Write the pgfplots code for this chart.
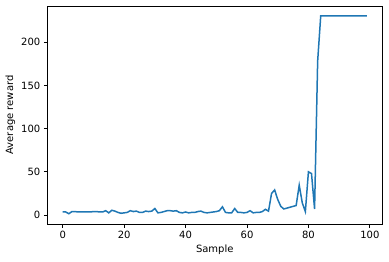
\documentclass[border=0pt]{standalone}
\usepackage{fontspec}
\setmainfont{DejaVu Sans}
\usepackage{pgfplots}
\pgfplotsset{compat=1.18}
\definecolor{mplblue}{HTML}{1F77B4}

\begin{document}
\fontsize{10bp}{12bp}\selectfont
\begin{tikzpicture}
  \begin{axis}[
      at={(0,0)}, anchor=south west,
      scale only axis, width=334.5bp, height=218bp,
      xmin=-4.95, xmax=103.95, ymin=-10.4, ymax=241.9,
      xtick={0,20,40,60,80,100}, ytick={0,50,100,150,200},
      axis line style={line width=0.8bp},
      tick style={line width=0.8bp, black},
      major tick length=3.5bp,
      tick align=outside, xtick pos=bottom, ytick pos=left,
      /pgf/number format/assume math mode=true,
      tick label style={font=\fontsize{10bp}{12bp}\selectfont},
      xticklabel style={inner sep=0pt, yshift=-3.5bp},
      yticklabel style={inner sep=0pt, xshift=-3.5bp},
      xlabel={Sample}, ylabel={Average reward},
      label style={font=\fontsize{10bp}{12bp}\selectfont, inner sep=0pt},
      xlabel style={at={(axis description cs:0.5,-0.0963)}, anchor=north},
      ylabel style={at={(axis description cs:-0.1112,0.5)}, rotate=0, anchor=center},
    ]
    \addplot[mplblue, line width=1.5bp, mark=none] coordinates {
      (0,3.5) (1,3.5) (2,1.5) (3,4) (4,4) (5,3.5) (6,3.5) (7,3.5) (8,3.5) (9,3.5)
      (10,4) (11,4) (12,3.5) (13,3.5) (14,5) (15,2.5) (16,5.5) (17,4.5) (18,3) (19,2)
      (20,2.5) (21,3) (22,5) (23,4) (24,4.5) (25,3) (26,3) (27,4.5) (28,4) (29,4.5)
      (30,7.5) (31,2.5) (32,3) (33,4) (34,5) (35,5) (36,4.5) (37,5) (38,3) (39,2.5)
      (40,3.5) (41,2.5) (42,3) (43,3) (44,4) (45,4.5) (46,3) (47,2.5) (48,3) (49,3.5)
      (50,4) (51,5) (52,9.5) (53,3) (54,2.5) (55,2.5) (56,7.5) (57,3) (58,3) (59,2.5)
      (60,3) (61,5) (62,2.5) (63,3) (64,3) (65,4) (66,6.6) (67,4.5) (68,25) (69,29)
      (70,18) (71,10) (72,7) (73,8) (74,9) (75,10) (76,11) (77,34.5) (78,14) (79,4)
      (80,50) (81,48) (82,7) (83,178) (84,230.5) (85,230.5) (86,230.5) (87,230.5) (88,230.5) (89,230.5)
      (90,230.5) (91,230.5) (92,230.5) (93,230.5) (94,230.5) (95,230.5) (96,230.5) (97,230.5) (98,230.5) (99,230.5)
    };
  \end{axis}
  \path (-47.5bp,-38bp) rectangle (341.5bp,224bp);
\end{tikzpicture}
\end{document}
